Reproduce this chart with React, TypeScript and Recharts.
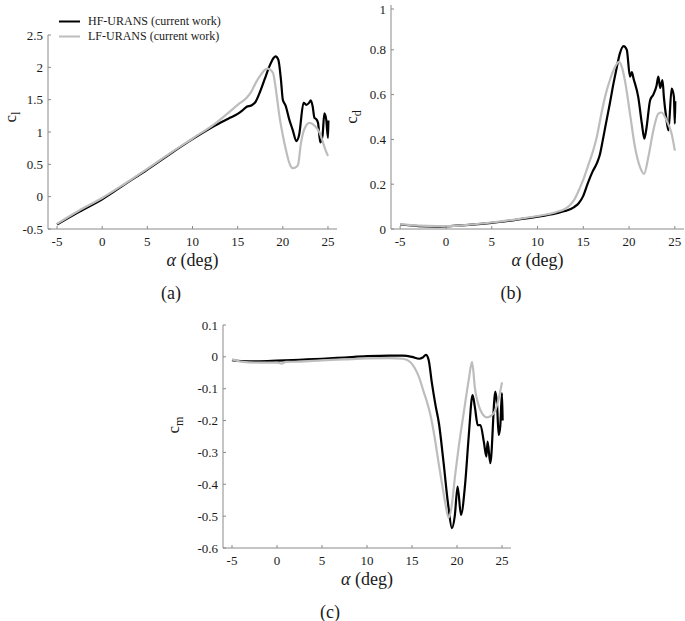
import { Legend, Line, LineChart, XAxis, YAxis } from "recharts";

const FONT = '"Liberation Serif", "Times New Roman", serif';
const AXIS = "#8a8a8a";
const TEXT = "#1a1a1a";
const HF_COLOR = "#000000";
const LF_COLOR = "#bdbdbd";

const HF_NAME = "HF-URANS (current work)";
const LF_NAME = "LF-URANS (current work)";

const alphaTicks = [-5, 0, 5, 10, 15, 20, 25];
const clTicks = [-0.5, 0, 0.5, 1, 1.5, 2, 2.5];
const cdTicks = [0, 0.2, 0.4, 0.6, 0.8, 1];
const cmTicks = [-0.6, -0.5, -0.4, -0.3, -0.2, -0.1, 0, 0.1];

// lift coefficient
const clHfAlpha = [-5, -2.5, 0, 2.5, 5, 7.5, 10, 12.5, 14, 15, 15.5, 16, 16.5, 17, 17.5, 18, 18.5, 19, 19.2, 19.5, 19.8, 20, 20.3, 20.7, 21.1, 21.5, 21.8, 22.3, 22.6, 22.9, 23.1, 23.3, 23.5, 23.7, 23.9, 24.15, 24.4, 24.6, 24.8, 25.0, 25.05];
const clHfValue = [-0.43, -0.23, -0.04, 0.19, 0.42, 0.66, 0.89, 1.1, 1.21, 1.28, 1.33, 1.39, 1.41, 1.47, 1.63, 1.82, 2.01, 2.15, 2.17, 2.12, 1.8, 1.5, 1.41, 1.2, 1.03, 0.86, 0.95, 1.45, 1.42, 1.45, 1.49, 1.4, 1.22, 1.2, 1.14, 0.84, 0.95, 1.29, 1.2, 0.91, 1.18];
const clLfAlpha = [-5, -2.5, 0, 2.5, 5, 7.5, 10, 12.5, 14, 15, 16, 16.5, 17, 17.5, 18, 18.3, 18.9, 19.26, 19.6, 20, 20.4, 20.7, 21.1, 21.5, 21.7, 22.0, 22.4, 22.95, 23.5, 24.1, 24.4, 24.7, 25.0];
const clLfValue = [-0.42, -0.21, -0.02, 0.2, 0.43, 0.67, 0.9, 1.13, 1.3, 1.42, 1.53, 1.62, 1.76, 1.87, 1.96, 1.98, 1.92, 1.63, 1.27, 0.95, 0.69, 0.53, 0.44, 0.46, 0.5, 0.82, 1.05, 1.14, 1.1, 0.98, 0.86, 0.73, 0.63];

// drag coefficient
const cdHfAlpha = [-5, -3, -1, 0, 2.5, 5, 7.5, 10, 12, 13, 14, 14.5, 15, 15.5, 16, 16.5, 16.8, 17.1, 17.4, 17.9, 18.3, 18.6, 19.0, 19.4, 19.75, 20.1, 20.3, 20.5, 21.0, 21.4, 21.67, 21.9, 22.3, 22.65, 23.0, 23.2, 23.4, 23.65, 23.8, 24.05, 24.3, 24.65, 24.9, 25.0, 25.05];
const cdHfValue = [0.02, 0.013, 0.011, 0.012, 0.018, 0.027, 0.04, 0.055, 0.07, 0.08, 0.098, 0.115, 0.148, 0.205, 0.255, 0.295, 0.33, 0.39, 0.455, 0.56, 0.65, 0.71, 0.784, 0.816, 0.8, 0.68, 0.7, 0.67, 0.59, 0.47, 0.403, 0.45, 0.575, 0.6, 0.64, 0.68, 0.63, 0.665, 0.59, 0.5, 0.44, 0.627, 0.59, 0.47, 0.57];
const cdLfAlpha = [-5, -3, -1, 0, 2.5, 5, 7.5, 10, 12, 13, 13.5, 14, 14.65, 15, 15.5, 16, 16.47, 17, 17.5, 17.9, 18.3, 18.9, 19.2, 19.56, 20.1, 20.65, 21.2, 21.64, 22.1, 22.65, 23.2, 23.55, 24.1, 24.65, 25.0];
const cdLfValue = [0.022, 0.015, 0.013, 0.013, 0.019, 0.029, 0.042, 0.058, 0.075, 0.09, 0.105, 0.13, 0.186, 0.22, 0.28, 0.34, 0.41, 0.52, 0.61, 0.664, 0.709, 0.746, 0.725, 0.66, 0.515, 0.365, 0.276, 0.246, 0.32, 0.44, 0.515, 0.52, 0.485, 0.425, 0.35];

// moment coefficient
const cmHfAlpha = [-5, -4, -2, 0, 2.5, 5, 7.5, 10, 12.5, 14, 15, 15.8, 16.2, 16.55, 16.85, 17.2, 17.6, 18.0, 18.5, 19.0, 19.44, 19.75, 20.07, 20.44, 20.9, 21.3, 21.73, 22.0, 22.3, 22.6, 23.0, 23.26, 23.4, 23.7, 24.26, 24.45, 24.63, 24.8, 25.0, 25.07];
const cmHfValue = [-0.01, -0.013, -0.014, -0.012, -0.009, -0.006, -0.002, 0.002, 0.004, 0.004, 0.0, -0.006, -0.002, 0.006, -0.01, -0.08, -0.15, -0.21, -0.33, -0.46, -0.538, -0.5, -0.407, -0.496, -0.4, -0.25, -0.12, -0.16, -0.214, -0.214, -0.27, -0.313, -0.266, -0.334, -0.109, -0.15, -0.245, -0.22, -0.114, -0.2];
const cmLfAlpha = [-5, -4, -2, 0, 0.5, 1, 2.5, 5, 7.5, 10, 12.5, 14, 14.8, 15.3, 15.8, 16.3, 16.7, 17.03, 17.5, 17.96, 18.4, 18.7, 19.07, 19.4, 19.8, 20.2, 20.74, 21.3, 21.67, 22.0, 22.6, 23.3, 24.07, 24.6, 25.0];
const cmLfValue = [-0.008, -0.015, -0.018, -0.018, -0.021, -0.016, -0.015, -0.011, -0.008, -0.005, -0.004, -0.006, -0.016, -0.035, -0.065, -0.11, -0.145, -0.18, -0.25, -0.334, -0.41, -0.46, -0.505, -0.47, -0.37, -0.28, -0.177, -0.073, -0.016, -0.1, -0.167, -0.19, -0.177, -0.135, -0.08];

const pairs = (a: number[], v: number[]) => a.map((x, i) => ({ alpha: x, value: v[i] }));

const textStyle = { fontFamily: FONT };

const XTick = (props: any) => {
  const { x, y, payload } = props;
  return (
    <g>
      <line x1={x} x2={x} y1={y} y2={y - 3} stroke={AXIS} />
      <text x={x} y={y + 17} textAnchor="middle" style={textStyle} fontSize={13} fill={TEXT}>
        {String(payload.value)}
      </text>
    </g>
  );
};

const YTick = (props: any) => {
  const { x, y, payload } = props;
  return (
    <g>
      <line x1={x} x2={x + 3} y1={y} y2={y} stroke={AXIS} />
      <text x={x - 5} y={y + 4.5} textAnchor="end" style={textStyle} fontSize={13} fill={TEXT}>
        {String(payload.value)}
      </text>
    </g>
  );
};

const legendContent = (props: any) => (
  <div style={{ fontFamily: FONT, fontSize: 12, lineHeight: "15px", color: TEXT }}>
    {(props.payload || []).map((p: any) => (
      <div key={p.value} style={{ display: "flex", alignItems: "center", whiteSpace: "nowrap" }}>
        <svg width={30} height={15}>
          <line x1={1} x2={22} y1={7.5} y2={7.5} stroke={p.color} strokeWidth={2} />
        </svg>
        <span>{p.value}</span>
      </div>
    ))}
  </div>
);

interface PanelProps {
  left: number;
  top: number;
  width: number;
  height: number;
  plotLeft: number;
  plotRight: number;
  plotTop: number;
  plotBottom: number;
  yDomain: [number, number];
  yTicks: number[];
  hf: { alpha: number; value: number }[];
  lf: { alpha: number; value: number }[];
  sub: string;
  yLabelX: number;
  yLabelY: number;
  caption: string;
  captionX: number;
  legend?: boolean;
}

function Panel(p: PanelProps) {
  const xLabel = (lp: any) => {
    const vb = lp.viewBox || {};
    const cx = vb.x + vb.width / 2;
    return (
      <g style={textStyle} fill={TEXT}>
        <text x={cx} y={vb.y + 37} textAnchor="middle" fontSize={18} style={textStyle}>
          <tspan fontStyle="italic">α</tspan> (deg)
        </text>
        <text x={p.captionX} y={vb.y + 70} textAnchor="middle" fontSize={18} style={textStyle}>
          {p.caption}
        </text>
      </g>
    );
  };
  const yLabel = () => (
    <text
      x={p.yLabelX}
      y={p.yLabelY}
      transform={`rotate(-90, ${p.yLabelX}, ${p.yLabelY})`}
      textAnchor="middle"
      style={textStyle}
      fill={TEXT}
      fontSize={17}
    >
      c
      <tspan dy={4} fontSize={12}>
        {p.sub}
      </tspan>
    </text>
  );
  return (
    <div style={{ position: "absolute", left: p.left, top: p.top }}>
      <LineChart
        width={p.width}
        height={p.height}
        margin={{ top: p.plotTop, right: p.width - p.plotRight, bottom: 0, left: 0 }}
      >
        <XAxis
          dataKey="alpha"
          type="number"
          domain={[-6, 26]}
          ticks={alphaTicks}
          allowDataOverflow
          height={p.height - p.plotBottom}
          tickSize={0}
          tickMargin={0}
          tick={XTick}
          axisLine={{ stroke: AXIS }}
          label={xLabel}
        />
        <YAxis
          type="number"
          domain={p.yDomain}
          ticks={p.yTicks}
          allowDataOverflow
          width={p.plotLeft}
          tickSize={0}
          tickMargin={0}
          tick={YTick}
          axisLine={{ stroke: AXIS }}
          label={yLabel}
        />
        {p.legend && (
          <Legend
            layout="vertical"
            align="center"
            verticalAlign="top"
            wrapperStyle={{ left: 58, top: 14, width: "auto" }}
            content={legendContent}
          />
        )}
        <Line
          data={p.hf}
          dataKey="value"
          name={HF_NAME}
          type="monotone"
          stroke={HF_COLOR}
          strokeWidth={2.2}
          dot={false}
          isAnimationActive={false}
        />
        <Line
          data={p.lf}
          dataKey="value"
          name={LF_NAME}
          type="monotone"
          stroke={LF_COLOR}
          strokeWidth={2.2}
          dot={false}
          isAnimationActive={false}
        />
      </LineChart>
    </div>
  );
}

export default function App() {
  return (
    <div style={{ position: "absolute", left: 0, top: 0, width: 685, height: 621, background: "#fff" }}>
      <Panel
        left={0}
        top={0}
        width={345}
        height={310}
        plotLeft={48}
        plotRight={337}
        plotTop={5}
        plotBottom={229}
        yDomain={[-0.5, 2.5]}
        yTicks={clTicks}
        hf={pairs(clHfAlpha, clHfValue)}
        lf={pairs(clLfAlpha, clLfValue)}
        sub="l"
        yLabelX={16}
        yLabelY={117}
        caption="(a)"
        captionX={171}
        legend
      />
      <Panel
        left={340}
        top={0}
        width={345}
        height={310}
        plotLeft={51}
        plotRight={344}
        plotTop={5}
        plotBottom={229}
        yDomain={[0, 1]}
        yTicks={cdTicks}
        hf={pairs(cdHfAlpha, cdHfValue)}
        lf={pairs(cdLfAlpha, cdLfValue)}
        sub="d"
        yLabelX={17}
        yLabelY={117}
        caption="(b)"
        captionX={171}
      />
      <Panel
        left={160}
        top={300}
        width={380}
        height={321}
        plotLeft={63}
        plotRight={351}
        plotTop={25}
        plotBottom={248}
        yDomain={[-0.6, 0.1]}
        yTicks={cmTicks}
        hf={pairs(cmHfAlpha, cmHfValue)}
        lf={pairs(cmLfAlpha, cmLfValue)}
        sub="m"
        yLabelX={19}
        yLabelY={125}
        caption="(c)"
        captionX={170}
      />
    </div>
  );
}
